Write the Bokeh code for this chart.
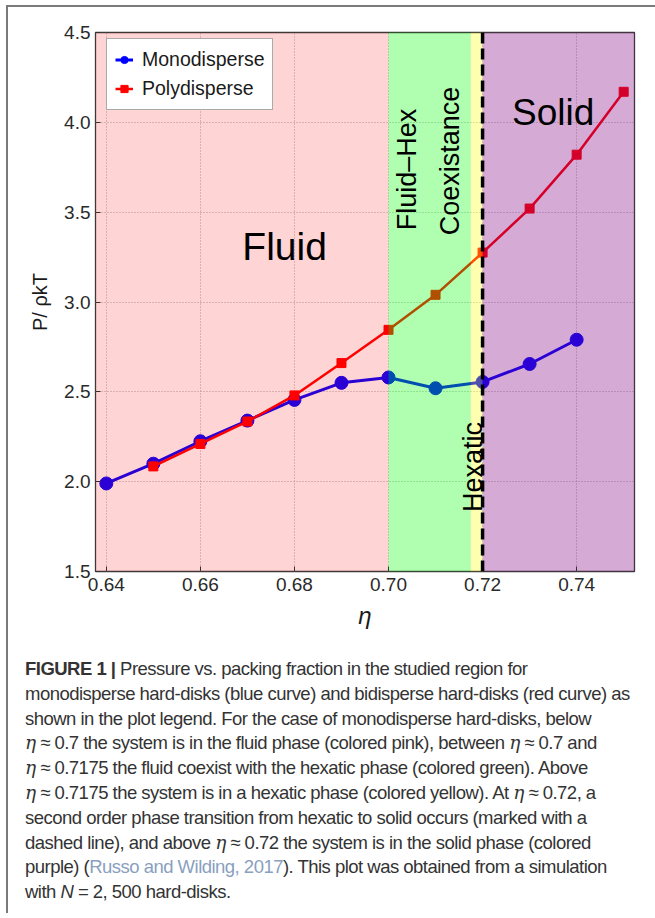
from bokeh.plotting import figure
from bokeh.models import Range1d, Legend, LegendItem, Div, Span, FixedTicker
from bokeh.layouts import column
from bokeh.embed import file_html
from bokeh.resources import INLINE
from bokeh.core.properties import value
import math

# ---- data ----
eta_mono = [0.64, 0.65, 0.66, 0.67, 0.68, 0.69, 0.70, 0.71, 0.72, 0.73, 0.74]
p_mono = [1.99, 2.10, 2.225, 2.34, 2.455, 2.55, 2.58, 2.52, 2.555, 2.655, 2.79]
eta_poly = [0.65, 0.66, 0.67, 0.68, 0.69, 0.70, 0.71, 0.72, 0.73, 0.74, 0.75]
p_poly = [2.085, 2.21, 2.335, 2.48, 2.66, 2.845, 3.04, 3.275, 3.52, 3.82, 4.17]

x_ticks = [0.64, 0.66, 0.68, 0.70, 0.72, 0.74]
x_tick_labels = ["0.64", "0.66", "0.68", "0.70", "0.72", "0.74"]
y_ticks = [1.5, 2.0, 2.5, 3.0, 3.5, 4.0, 4.5]
y_tick_labels = ["1.5", "2.0", "2.5", "3.0", "3.5", "4.0", "4.5"]

x_min, x_max = 0.6377, 0.7523
y_min, y_max = 1.5, 4.5

phase_left = [x_min, 0.70, 0.7175, 0.72]
phase_right = [0.70, 0.7175, 0.72, x_max]
phase_colors = ["red", "lime", "yellow", "purple"]
phase_alpha = [0.17, 0.31, 0.31, 0.33]
transition_eta = 0.72

label_text = ["Fluid", "Solid", "Fluid\u2013Hex", "Coexistance", "Hexatic"]
label_x = [0.6779, 0.7350, 0.7040, 0.7130, 0.7180]
label_y = [3.31, 4.056, 3.738, 3.785, 2.082]
label_angle = [0, 0, math.pi / 2, math.pi / 2, math.pi / 2]
label_size = ["39px", "37px", "27px", "27px", "27px"]

FONT = "Liberation Sans"

p = figure(
    frame_width=539, frame_height=539,
    min_border_left=87, min_border_top=25, min_border_right=20, min_border_bottom=70,
    x_range=Range1d(x_min, x_max), y_range=Range1d(y_min, y_max),
    output_backend="svg", toolbar_location=None,
    background_fill_color="white", border_fill_color="white",
)

# grid
p.xgrid.ticker = FixedTicker(ticks=x_ticks)
p.ygrid.ticker = FixedTicker(ticks=y_ticks)
for g in (p.xgrid, p.ygrid):
    g.grid_line_color = "#a8a8a8"
    g.grid_line_dash = "1 2"
    g.grid_line_width = 1

# axes
p.xaxis.ticker = FixedTicker(ticks=x_ticks)
p.yaxis.ticker = FixedTicker(ticks=y_ticks)
p.xaxis.major_label_overrides = {t: l for t, l in zip(x_ticks, x_tick_labels)}
p.yaxis.major_label_overrides = {t: l for t, l in zip(y_ticks, y_tick_labels)}
for ax in (p.xaxis, p.yaxis):
    ax.axis_line_color = None
    ax.major_tick_in = 5
    ax.major_tick_out = 0
    ax.minor_tick_line_color = None
    ax.major_tick_line_color = "#333333"
    ax.major_label_text_font = FONT
    ax.major_label_text_font_size = "19px"
    ax.major_label_text_color = "#2a2a2a"
    ax.axis_label_text_font = FONT
    ax.axis_label_text_color = "#1a1a1a"
p.xaxis.major_label_standoff = 6
p.yaxis.major_label_standoff = 5
p.xaxis.axis_label = "\u03b7"
p.xaxis.axis_label_text_font_style = "italic"
p.xaxis.axis_label_text_font_size = "24px"
p.xaxis.axis_label_standoff = 8
p.yaxis.axis_label = "P/ \u03c1kT"
p.yaxis.axis_label_text_font_style = "normal"
p.yaxis.axis_label_text_font_size = "20px"
p.yaxis.axis_label_standoff = 10

p.outline_line_color = "#3a3a3a"
p.outline_line_width = 1.3

# series
bl = p.line(eta_mono, p_mono, line_color="blue", line_width=3)
bm = p.scatter(eta_mono, p_mono, marker="circle", size=13, fill_color="blue", line_color="blue")
rl = p.line(eta_poly, p_poly, line_color="red", line_width=2.5)
rm = p.scatter(eta_poly, p_poly, marker="square", size=9, fill_color="red", line_color="red")

# phase regions drawn over the data (translucent)
p.quad(left=phase_left, right=phase_right, bottom=[y_min] * 4, top=[y_max] * 4,
       fill_color=phase_colors, fill_alpha=phase_alpha, line_color=None)

# transition line
p.add_layout(Span(location=transition_eta, dimension="height", line_color="black",
                  line_width=3.5, line_dash="11 5", level="overlay"))

# phase labels
for t, x, y, a, s in zip(label_text, label_x, label_y, label_angle, label_size):
    p.text(x=[x], y=[y], text=[t], angle=a, text_font=value(FONT), text_font_size=s,
           text_align="center", text_baseline="middle", text_color="black")

legend = Legend(items=[LegendItem(label="Monodisperse", renderers=[bl, bm]),
                       LegendItem(label="Polydisperse", renderers=[rl, rm])],
                location=(11, 461))
legend.label_text_font = FONT
legend.label_text_font_size = "19.5px"
legend.label_text_color = "#1a1a1a"
legend.glyph_width = 18
legend.glyph_height = 25
legend.label_height = 25
legend.label_standoff = 9
legend.spacing = 4
legend.padding = 8
legend.margin = 0
legend.border_line_color = "#555555"
legend.border_line_width = 1
legend.background_fill_color = "white"
legend.background_fill_alpha = 1.0
p.add_layout(legend)

eta = "<i style='font-family:\"DejaVu Serif\"'>\u03b7</i>"
cite = "<span style='color:#8aa0c0'>Russo and Wilding, 2017</span>"
caption_lines = [
    "<b>FIGURE 1 |</b> Pressure vs. packing fraction in the studied region for",
    "monodisperse hard-disks (blue curve) and bidisperse hard-disks (red curve) as",
    "shown in the plot legend. For the case of monodisperse hard-disks, below",
    f"{eta} \u2248 0.7 the system is in the fluid phase (colored pink), between {eta} \u2248 0.7 and",
    f"{eta} \u2248 0.7175 the fluid coexist with the hexatic phase (colored green). Above",
    f"{eta} \u2248 0.7175 the system is in a hexatic phase (colored yellow). At {eta} \u2248 0.72, a",
    "second order phase transition from hexatic to solid occurs (marked with a",
    f"dashed line), and above {eta} \u2248 0.72 the system is in the solid phase (colored",
    f"purple) ({cite}). This plot was obtained from a simulation",
    "with <i>N</i> = 2, 500 hard-disks.",
]
div = Div(text="<br>".join(caption_lines), width=640, height=262,
          styles={"font-family": "'Liberation Sans', sans-serif",
                  "font-size": "18.5px", "letter-spacing": "-0.52px",
                  "line-height": "24.8px", "color": "#333333",
                  "white-space": "nowrap", "padding-left": "12px", "padding-top": "11px"})

layout = column(p, div, spacing=0, margin=(5, 0, 0, 6),
                styles={"border-left": "2px solid #7a7a7a", "border-top": "2px solid #7a7a7a"})

with open("out.html", "w") as f:
    f.write(file_html(layout, INLINE))
